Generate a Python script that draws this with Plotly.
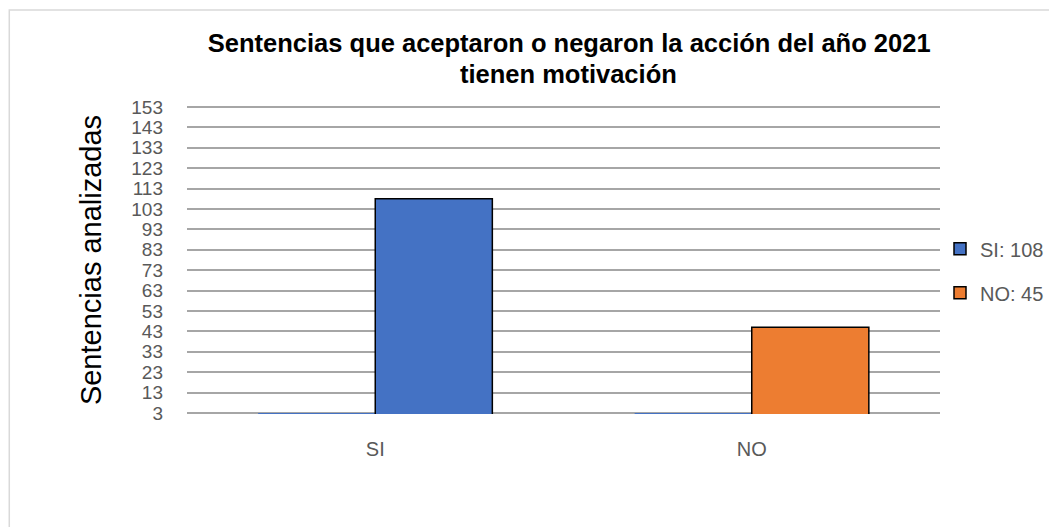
import plotly.graph_objects as go

categories = ["SI", "NO"]
base_series = [3, 3]
si_value = [108]
no_value = [45]
tick_vals = list(range(3, 154, 10))
title_line1 = "Sentencias que aceptaron o negaron la acción del año 2021"
title_line2 = "tienen motivación"

BLUE = "#4472C4"
ORANGE = "#ED7D31"

fig = go.Figure()
fig.add_trace(go.Bar(x=categories, y=base_series, offsetgroup="a", marker=dict(color=BLUE, line=dict(width=0)),
                     showlegend=False, hoverinfo="skip"))
fig.add_trace(go.Bar(x=["SI"], y=si_value, name="SI: 108", offsetgroup="b", legendgroup="g1",
                     marker=dict(color=BLUE, line=dict(color="black", width=1.5))))
fig.add_trace(go.Bar(x=["NO"], y=no_value, name="NO: 45", offsetgroup="b", legendgroup="g2",
                     marker=dict(color=ORANGE, line=dict(color="black", width=1.5))))

fig.update_layout(
    width=1049, height=519,
    paper_bgcolor="white", plot_bgcolor="white",
    margin=dict(l=179, r=117, t=98, b=113, autoexpand=False),
    barmode="group", bargap=0.378, bargroupgap=0,
    title=dict(text=title_line1, x=0.535, xanchor="center", y=0.9325, yanchor="middle",
               font=dict(family="Liberation Sans, Arial", size=25.5, color="black", weight="bold")),
    font=dict(family="Liberation Sans, Arial", color="#595959"),
    legend=dict(x=1.0, xanchor="left", y=0.6, yanchor="top", tracegroupgap=15,
                font=dict(size=20, color="#595959"), bgcolor="rgba(0,0,0,0)"),
    showlegend=True,
)
fig.add_annotation(text=title_line2, xref="paper", yref="paper", x=0.507, y=1.104,
                   xanchor="center", yanchor="middle", showarrow=False,
                   font=dict(family="Liberation Sans, Arial", size=25.5, color="black", weight="bold"))
fig.update_xaxes(type="category", categoryorder="array", categoryarray=categories,
                 showgrid=False, showline=False, ticks="", tickfont=dict(size=20, color="#595959"),
                 ticklabelstandoff=21)
fig.update_yaxes(range=[2.5, 153.5], tickvals=tick_vals, showgrid=True, gridcolor="#a6a6a6", gridwidth=1.5,
                 zeroline=False, showline=False, tickfont=dict(size=19, color="#595959"), ticks="",
                 ticklabelstandoff=23,
                 title=dict(text="Sentencias analizadas", font=dict(size=29, color="black"), standoff=21))
fig.add_shape(type="rect", xref="paper", yref="paper", x0=-0.236, x1=1.17, y0=-0.4, y1=1.312,
              line=dict(color="#d9d9d9", width=1.5), layer="below")
fig.write_html("out.html")
